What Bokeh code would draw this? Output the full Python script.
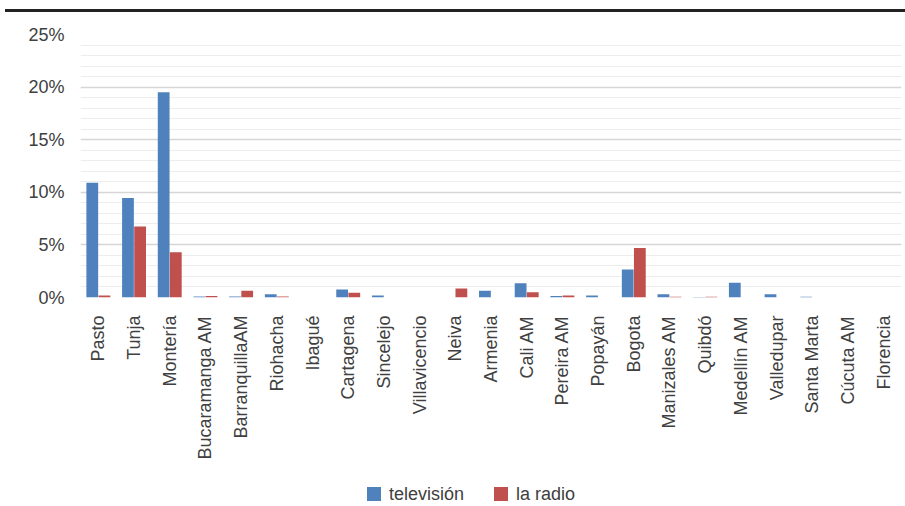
from math import pi
from bokeh.plotting import figure
from bokeh.models import (ColumnDataSource, FactorRange, Range1d, SingleIntervalTicker,
                          PrintfTickFormatter, Div)
from bokeh.layouts import column
from bokeh.transform import dodge
from bokeh.embed import file_html
from bokeh.resources import INLINE

cities = ["Pasto", "Tunja", "Montería", "Bucaramanga AM", "BarranquillaAM", "Riohacha",
          "Ibagué", "Cartagena", "Sincelejo", "Villavicencio", "Neiva", "Armenia",
          "Cali AM", "Pereira AM", "Popayán", "Bogota", "Manizales AM", "Quibdó",
          "Medellín AM", "Valledupar", "Santa Marta", "Cúcuta AM", "Florencia"]
television = [10.9, 9.45, 19.5, 0.1, 0.1, 0.3, 0.0, 0.75, 0.2, 0.0, 0.0, 0.65,
              1.35, 0.15, 0.2, 2.65, 0.3, 0.05, 1.4, 0.3, 0.08, 0.0, 0.0]
radio = [0.2, 6.75, 4.3, 0.15, 0.65, 0.1, 0.0, 0.45, 0.0, 0.0, 0.85, 0.0,
         0.5, 0.2, 0.0, 4.7, 0.08, 0.08, 0.0, 0.0, 0.0, 0.0, 0.0]
series_names = ["televisión", "la radio"]
y_max = 25

FONT = "Liberation Sans"
TXT = "#404040"
BLUE = "#4F81BD"
RED = "#C0504D"

src = ColumnDataSource(dict(city=cities, tv=television, radio=radio))

p = figure(frame_width=821, frame_height=263, x_range=FactorRange(*cities, range_padding=0),
           y_range=Range1d(0, y_max), toolbar_location=None, output_backend="svg",
           min_border_left=80, min_border_right=4, min_border_top=22, min_border_bottom=185,
           outline_line_color=None, background_fill_color="white", border_fill_color="white")

r1 = p.vbar(x=dodge("city", -0.17, range=p.x_range), top="tv", width=0.33, source=src,
            fill_color=BLUE, line_color=None)
r2 = p.vbar(x=dodge("city", 0.17, range=p.x_range), top="radio", width=0.33, source=src,
            fill_color=RED, line_color=None)

p.yaxis.ticker = SingleIntervalTicker(interval=5, num_minor_ticks=5)
p.yaxis.formatter = PrintfTickFormatter(format="%d%%")
p.yaxis.axis_line_color = None
p.yaxis.major_tick_line_color = None
p.yaxis.minor_tick_line_color = None
p.yaxis.major_label_standoff = 10
p.yaxis.major_label_text_font = FONT
p.yaxis.major_label_text_font_size = "18px"
p.yaxis.major_label_text_color = TXT

p.xaxis.axis_line_color = None
p.xaxis.major_tick_line_color = None
p.xaxis.minor_tick_line_color = None
p.xaxis.major_label_orientation = pi / 2
p.xaxis.major_label_standoff = 12
p.xaxis.major_label_text_font = FONT
p.xaxis.major_label_text_font_size = "18px"
p.xaxis.major_label_text_color = TXT

p.xgrid.grid_line_color = None
p.ygrid.grid_line_color = "#d6d6d6"
p.ygrid.grid_line_width = 1.5
p.ygrid.minor_grid_line_color = "#ededed"
p.ygrid.minor_grid_line_width = 1

rule = Div(text="", width=900, height=3, margin=(9, 0, 0, 5),
           styles={"background-color": "#222222"})

swatch = ('<span style="display:inline-block;width:14px;height:14px;background:{c};'
          'vertical-align:-1px;margin-left:{ml}px;margin-right:8px"></span>')
legend_html = (
    f'<div style="font-family:\'{FONT}\';font-size:18px;color:{TXT};line-height:24px;'
    f'white-space:nowrap">'
    + swatch.format(c=BLUE, ml=0) + series_names[0]
    + swatch.format(c=RED, ml=30) + series_names[1]
    + '</div>'
)
legend_div = Div(text=legend_html, width=400, height=24, margin=(0, 0, 0, 367))

open("out.html", "w").write(file_html(column(rule, p, legend_div), INLINE))
